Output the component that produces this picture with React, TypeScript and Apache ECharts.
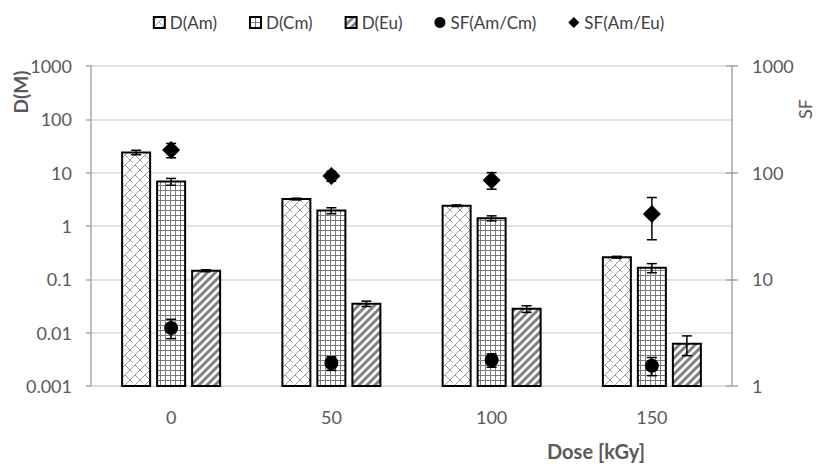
import React, { useEffect, useRef } from "react";
import * as echarts from "echarts";

const categories = ["0", "50", "100", "150"];
const dAm = [24, 3.2, 2.4, 0.26];
const dAmErr = [2.3, 0.12, 0.08, 0.01];
const dCm = [6.8, 1.95, 1.4, 0.165];
const dCmErr = [1.0, 0.25, 0.15, 0.032];
const dEu = [0.145, 0.035, 0.028, 0.0062];
const dEuErr = [0.006, 0.004, 0.004, 0.0025];
const sfAmCm = [3.5, 1.64, 1.75, 1.55];
const sfAmCmErr = [0.72, 0.24, 0.25, 0.3];
const sfAmEu = [163, 93, 85, 41];
const sfAmEuErr = [25, 10, 15, 17.5];
const leftMin = 0.001;
const leftMax = 1000;
const rightMin = 1;
const rightMax = 1000;

const FONT = "Lato, 'Open Sans', sans-serif";
const TXT = "#595959";
const BAR_W = 28;
const BAR_STEP = 35;

function makePattern(kind: string) {
  const size = kind === "grid" ? 5 : kind === "stripe" ? 8 : 10;
  const c = document.createElement("canvas");
  c.width = size;
  c.height = size;
  const g = c.getContext("2d")!;
  g.fillStyle = "#ffffff";
  g.fillRect(0, 0, size, size);
  if (kind === "grid") {
    g.fillStyle = "#7a7a7a";
    g.fillRect(0, 0, size, 1);
    g.fillRect(0, 0, 1, size);
  } else if (kind === "stripe") {
    g.strokeStyle = "#808080";
    g.lineWidth = 3;
    g.lineCap = "square";
    for (const o of [-size, 0, size]) {
      g.beginPath();
      g.moveTo(o, size);
      g.lineTo(o + size, 0);
      g.stroke();
    }
  } else {
    g.strokeStyle = "#9a9a9a";
    g.lineWidth = 1;
    g.beginPath();
    // diagonal "/" segments joined by short "\" steps: zigzag trellis
    g.moveTo(0, 10);
    g.lineTo(5, 5);
    g.lineTo(10, 10);
    g.moveTo(5, 5);
    g.lineTo(10, 0);
    g.moveTo(0, 0);
    g.lineTo(2.5, 2.5);
    g.stroke();
  }
  return { image: c, repeat: "repeat", imageWidth: size, imageHeight: size } as any;
}

function barSeries(name: string, vals: number[], kind: string, offset: number) {
  const fill = makePattern(kind);
  return {
    type: "custom",
    name,
    yAxisIndex: 0,
    z: 2,
    itemStyle: { color: fill, borderColor: "#000", borderWidth: 2 },
    data: vals.map((v, i) => [i, v]),
    encode: { x: 0, y: 1 },
    renderItem: (_p: any, api: any) => {
      const top = api.coord([api.value(0), api.value(1)]);
      const base = api.coord([api.value(0), leftMin]);
      const x = top[0] + offset - BAR_W / 2;
      return {
        type: "rect",
        shape: { x, y: top[1], width: BAR_W, height: base[1] - top[1] },
        style: { fill, stroke: "#000", lineWidth: 2 },
      };
    },
  };
}

function errorSeries(id: string, vals: number[], errs: number[], yAxisIndex: number, offset: number) {
  return {
    type: "custom",
    id,
    yAxisIndex,
    silent: true,
    z: 5,
    data: vals.map((v, i) => [i, v - errs[i], v + errs[i]]),
    encode: { x: 0, y: [1, 2] },
    renderItem: (_p: any, api: any) => {
      const lo = api.coord([api.value(0), api.value(1)]);
      const hi = api.coord([api.value(0), api.value(2)]);
      const x = lo[0] + offset;
      const cap = 5;
      const st = { stroke: "#000", lineWidth: 1.5 };
      return {
        type: "group",
        children: [
          { type: "line", shape: { x1: x, y1: hi[1], x2: x, y2: lo[1] }, style: st },
          { type: "line", shape: { x1: x - cap, y1: hi[1], x2: x + cap, y2: hi[1] }, style: st },
          { type: "line", shape: { x1: x - cap, y1: lo[1], x2: x + cap, y2: lo[1] }, style: st },
        ],
      };
    },
  };
}

function decadeLabel(v: number) {
  const e = Math.round(Math.log10(v));
  return e < 0 ? Math.pow(10, e).toFixed(-e) : String(Math.round(Math.pow(10, e)));
}

export default function App() {
  const ref = useRef<HTMLDivElement>(null);
  useEffect(() => {
    if (!ref.current) return;
    const chart = echarts.init(ref.current, undefined, { renderer: "svg" });
    const option: any = {
      animation: false,
      textStyle: { fontFamily: FONT },
      grid: { left: 91, right: 85, top: 66, bottom: 78 },
      legend: {
        top: 9,
        left: "center",
        itemWidth: 11,
        itemHeight: 11,
        itemGap: 32,
        textStyle: { fontFamily: FONT, fontSize: 17, color: "#404040" },
        data: [
          { name: "D(Am)", icon: "rect" },
          { name: "D(Cm)", icon: "rect" },
          { name: "D(Eu)", icon: "rect" },
          { name: "SF(Am/Cm)", icon: "circle" },
          { name: "SF(Am/Eu)", icon: "diamond" },
        ],
      },
      xAxis: {
        type: "category",
        data: categories,
        axisLine: { lineStyle: { color: "#d9d9d9", width: 1.5 } },
        axisTick: { show: false },
        axisLabel: { fontFamily: FONT, fontSize: 18, color: TXT, margin: 22 },
      },
      yAxis: [
        {
          type: "log",
          logBase: 10,
          min: leftMin,
          max: leftMax,
          axisLine: { show: true, lineStyle: { color: "#a6a6a6", width: 1.5 } },
          axisTick: { show: true, length: 5, lineStyle: { color: "#a6a6a6", width: 1.5 } },
          splitLine: { show: true, lineStyle: { color: "#d9d9d9", width: 1.5 } },
          axisLabel: { fontFamily: FONT, fontSize: 18, color: TXT, margin: 19, formatter: decadeLabel },
        },
        {
          type: "log",
          logBase: 10,
          min: rightMin,
          max: rightMax,
          position: "right",
          axisLine: { show: true, lineStyle: { color: "#a6a6a6", width: 1.5 } },
          axisTick: { show: true, length: 6, lineStyle: { color: "#a6a6a6", width: 1.5 } },
          splitLine: { show: false },
          axisLabel: { fontFamily: FONT, fontSize: 18, color: TXT, margin: 20, formatter: decadeLabel },
        },
        {
          type: "log",
          logBase: 10,
          min: rightMin,
          max: rightMax,
          position: "right",
          axisLine: { show: false },
          axisTick: { show: true, inside: true, length: 6, lineStyle: { color: "#a6a6a6", width: 1.5 } },
          splitLine: { show: false },
          axisLabel: { show: false },
        },
      ],
      graphic: [
        {
          type: "text",
          x: 20,
          y: 92,
          rotation: Math.PI / 2,
          style: { text: "D(M)", font: `bold 19px ${FONT}`, fill: TXT, textAlign: "center", textVerticalAlign: "middle" },
        },
        {
          type: "text",
          x: 805,
          y: 109,
          rotation: Math.PI / 2,
          style: { text: "SF", font: `18px ${FONT}`, fill: TXT, textAlign: "center", textVerticalAlign: "middle" },
        },
        {
          type: "text",
          x: 596,
          y: 451,
          style: { text: "Dose [kGy]", font: `bold 20px ${FONT}`, fill: TXT, textAlign: "center", textVerticalAlign: "middle" },
        },
      ],
      series: [
        barSeries("D(Am)", dAm, "zig", -BAR_STEP),
        barSeries("D(Cm)", dCm, "grid", 0),
        barSeries("D(Eu)", dEu, "stripe", BAR_STEP),
        errorSeries("errAm", dAm, dAmErr, 0, -BAR_STEP),
        errorSeries("errCm", dCm, dCmErr, 0, 0),
        errorSeries("errEu", dEu, dEuErr, 0, BAR_STEP),
        errorSeries("errSfCm", sfAmCm, sfAmCmErr, 1, 0),
        errorSeries("errSfEu", sfAmEu, sfAmEuErr, 1, 0),
        {
          type: "scatter",
          name: "SF(Am/Cm)",
          yAxisIndex: 1,
          data: sfAmCm,
          symbol: "circle",
          symbolSize: 14,
          itemStyle: { color: "#000", opacity: 1 },
          z: 6,
        },
        {
          type: "scatter",
          name: "SF(Am/Eu)",
          yAxisIndex: 1,
          data: sfAmEu,
          symbol: "diamond",
          symbolSize: 18,
          itemStyle: { color: "#000", opacity: 1 },
          z: 6,
        },
      ],
    };
    chart.setOption(option);
    return () => chart.dispose();
  }, []);
  return <div ref={ref} style={{ width: 817, height: 464, position: "absolute", left: 0, top: 0 }} />;
}
